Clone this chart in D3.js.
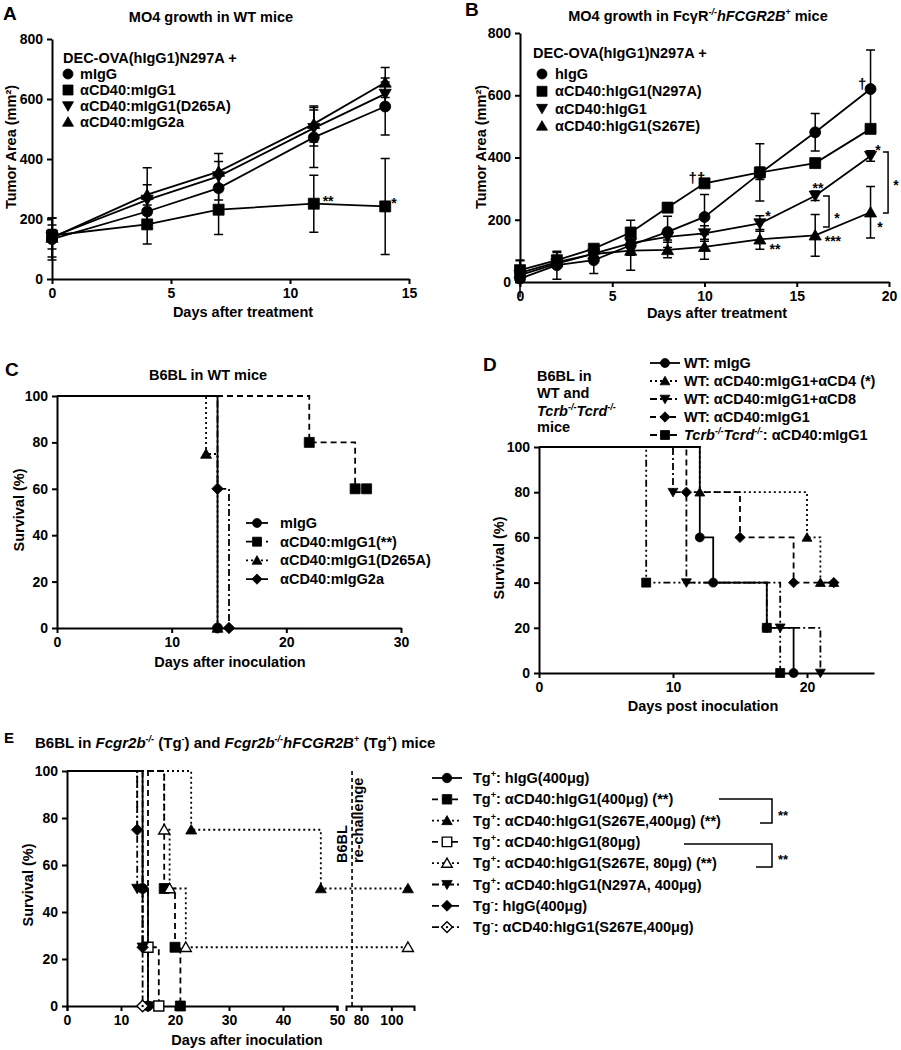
<!DOCTYPE html>
<html><head><meta charset="utf-8">
<script src="https://cdn.jsdelivr.net/npm/d3@7"></script>
<style>
body{margin:0;background:#fff}
svg text{font-family:"Liberation Sans",Arial,Helvetica,sans-serif;font-weight:bold;fill:#000}
</style></head><body>
<svg id="fig" width="901" height="1050"></svg>
<script>
// ---------------- DATA ----------------
// Panel A: MO4 growth in WT mice
const aDays = [0, 4, 7, 11, 14];
const aMIgG = [133, 225, 303, 472, 575];
const aMIgGErr = [70, 40, 40, 100, 95];
const aMIgG1 = [145, 182, 231, 251, 242];
const aMIgG1Err = [20, 65, 83, 95, 160];
const aD265A = [140, 264, 342, 503, 617];
const aD265AErr = [40, 50, 50, 60, 40];
const aMIgG2a = [138, 281, 358, 517, 655];
const aMIgG2aErr = [65, 90, 60, 60, 50];
const aYTicks = [0, 200, 400, 600, 800];
const aXTicks = [0, 5, 10, 15];

// Panel B: MO4 growth in FcgR-/- hFCGR2B+ mice
const bDays = [0, 2, 4, 6, 8, 10, 13, 16, 19];
const bHIgG = [11, 54, 70, 118, 161, 209, 349, 481, 620];
const bHIgGErr = [60, 45, 43, 80, 50, 72, 20, 60, 125];
const bN297A = [38, 70, 107, 159, 239, 317, 352, 382, 492];
const bN297AErr = [30, 25, 10, 10, 15, 10, 92, 10, 10];
const bHIgG1 = [22, 59, 91, 125, 145, 156, 188, 277, 405];
const bHIgG1Err = [10, 10, 10, 10, 10, 25, 25, 15, 17];
const bS267E = [29, 64, 90, 101, 103, 113, 137, 150, 224];
const bS267EErr = [10, 10, 10, 15, 25, 40, 32, 67, 83];
const bYTicks = [0, 200, 400, 600, 800];
const bXTicks = [0, 5, 10, 15, 20];

// Panel C: survival [day, survival%] steps
const cMIgG = [[14, 0]];
const cMIgG1 = [[22, 80], [26, 60], [27, 60]];
const cD265A = [[13, 75], [14, 0]];
const cMIgG2a = [[14, 60], [15, 0]];
const cXTicks = [0, 10, 20, 30];
const survTicks = [0, 20, 40, 60, 80, 100];

// Panel D
const dMIgG = [[12, 60], [13, 40], [17, 20], [19, 0]];
const dCD4 = [[12, 80], [20, 60], [21, 40], [22, 40]];
const dCD8 = [[10, 80], [11, 40], [18, 20], [21, 0]];
const dMIgG1 = [[11, 80], [15, 60], [19, 40], [22, 40]];
const dTcrb = [[8, 40], [17, 20], [18, 0]];
const dXTicks = [0, 10, 20];

// Panel E
const eHIgG = [[14, 50], [15, 0]];
const eCD40400 = [[18, 50], [20, 25], [21, 0]];
const eS267E400 = [[23, 75], [47, 50], [111, 50]];
const eCD4080 = [[15, 25], [17, 0]];
const eS267E80 = [[18, 75], [19, 50], [22, 25], [111, 25]];
const eN297A = [[13, 50], [14, 25], [15, 0]];
const eTgNegHIgG = [[13, 75], [14, 25], [15, 0]];
const eTgNegS267E = [[14, 0]];
const eXTicksA = [0, 10, 20, 30, 40, 50];
const eXTicksB = [80, 100];
const eRechallenge = 74;

// ---------------- HELPERS ----------------
const svg = d3.select("#fig");
const DASH = {solid: null, dashed: "6,4", dotted: "2,3", dashdot: "7,3,2,3", dashdotdot: "7,3,2,3,2,3"};

function rich(sel, parts, base) {
  let cur = 0;
  parts.forEach(p => {
    if (typeof p === "string") p = {t: p};
    const want = p.sup ? -Math.round(base * 0.38) : 0;
    const ts = sel.append("tspan").text(p.t);
    if (want - cur !== 0) ts.attr("dy", want - cur);
    cur = want;
    if (p.sup) ts.attr("font-size", Math.round(base * 0.62));
    if (p.it) ts.attr("font-style", "italic");
  });
  return sel;
}
function text(x, y, parts, size = 14.5, anchor = "start") {
  const t = svg.append("text").attr("x", x).attr("y", y).attr("font-size", size).attr("text-anchor", anchor);
  return rich(t, Array.isArray(parts) ? parts : [parts], size);
}
function vtext(cx, cy, parts, size = 14.5, anchor = "middle") {
  const t = svg.append("text").attr("transform", `translate(${cx},${cy}) rotate(-90)`)
    .attr("font-size", size).attr("text-anchor", anchor);
  return rich(t, Array.isArray(parts) ? parts : [parts], size);
}
function symPath(type, s) {
  const h = s / 2;
  switch (type) {
    case "circle": case "ocircle": return d3.symbol(d3.symbolCircle, Math.PI * h * h)();
    case "square": case "osquare": return `M${-h},${-h}H${h}V${h}H${-h}Z`;
    case "tri": case "otri": return `M0,${-h * 1.05}L${h * 1.1},${h * 0.85}L${-h * 1.1},${h * 0.85}Z`;
    case "tridown": return `M0,${h * 1.05}L${h * 1.1},${-h * 0.85}L${-h * 1.1},${-h * 0.85}Z`;
    case "diamond": case "odiamond": return `M0,${-h * 1.15}L${h * 1.15},0L0,${h * 1.15}L${-h * 1.15},0Z`;
  }
}
function marker(g, type, x, y, s) {
  const open = type[0] === "o";
  g.append("path").attr("d", symPath(type, s)).attr("transform", `translate(${x},${y})`)
    .attr("fill", open ? "#fff" : "#000").attr("stroke", "#000").attr("stroke-width", open ? 1.4 : 0.8);
  if (type === "odiamond") g.append("circle").attr("cx", x).attr("cy", y).attr("r", 1.2).attr("fill", "#000");
}
function styleAxis(g) {
  g.attr("font-size", 14).attr("font-family", null);
  g.selectAll("path,line").attr("stroke", "#000").attr("stroke-width", 2);
}
function axes(x, y, xTicks, yTicks) {
  const gx = svg.append("g").attr("transform", `translate(0,${y.range()[0]})`)
    .call(d3.axisBottom(x).tickValues(xTicks).tickSize(5).tickSizeOuter(0).tickPadding(4));
  styleAxis(gx);
  const gy = svg.append("g").attr("transform", `translate(${x.range()[0]},0)`)
    .call(d3.axisLeft(y).tickValues(yTicks).tickSize(5).tickSizeOuter(0).tickPadding(4));
  styleAxis(gy);
}
function growth(x, y, days, series, ms) {
  const g = svg.append("g");
  const line = d3.line().x((d, i) => x(days[i])).y(d => y(d));
  series.forEach(s => {
    s.vals.forEach((v, i) => {
      const e = s.errs[i], cx = x(days[i]);
      g.append("path").attr("d", `M${cx},${y(v - e)}V${y(v + e)}M${cx - 4.5},${y(v + e)}H${cx + 4.5}M${cx - 4.5},${y(Math.max(0, v - e))}H${cx + 4.5}`)
        .attr("stroke", "#000").attr("stroke-width", 1.5).attr("fill", "none");
    });
  });
  series.forEach(s => g.append("path").attr("d", line(s.vals)).attr("fill", "none").attr("stroke", "#000").attr("stroke-width", 1.8));
  series.forEach(s => s.vals.forEach((v, i) => marker(g, s.marker, x(days[i]), y(v), ms)));
}
function km(x, y, groups, ms) {
  const g = svg.append("g");
  groups.forEach(gr => {
    let d = `M${x(0)},${y(100)}`;
    gr.pts.forEach(([t, s]) => { d += `H${x(t)}V${y(s)}`; });
    g.append("path").attr("d", d).attr("fill", "none").attr("stroke", "#000").attr("stroke-width", 1.8)
      .attr("stroke-dasharray", DASH[gr.dash]);
  });
  groups.forEach(gr => gr.pts.forEach(([t, s]) => marker(g, gr.marker, x(t), y(s), ms)));
}
function legendKM(x1, x2, y, dash, type, ms) {
  svg.append("path").attr("d", `M${x1},${y}H${x2}`).attr("stroke", "#000").attr("stroke-width", 1.8)
    .attr("stroke-dasharray", DASH[dash]);
  marker(svg, type, (x1 + x2) / 2, y, ms);
}
function star(x, y, s, size = 14) { return text(x, y + 8, s, size, "middle"); }

// ---------------- PANEL A ----------------
const xA = d3.scaleLinear().domain([0, 15]).range([52, 409]);
const yA = d3.scaleLinear().domain([0, 800]).range([279, 39]);
text(3, 20, "A", 19);
text(211, 22, "MO4 growth in WT mice", 14.5, "middle");
axes(xA, yA, aXTicks, aYTicks);
growth(xA, yA, aDays, [
  {vals: aMIgG, errs: aMIgGErr, marker: "circle"},
  {vals: aMIgG1, errs: aMIgG1Err, marker: "square"},
  {vals: aD265A, errs: aD265AErr, marker: "tridown"},
  {vals: aMIgG2a, errs: aMIgG2aErr, marker: "tri"}
], 11);
star(xA(11.6), yA(270), "**");
star(xA(14.37), yA(263), "*");
text(243, 317, "Days after treatment", 14.5, "middle");
vtext(16, 147, "Tumor Area (mm²)");
text(63, 63, "DEC-OVA(hIgG1)N297A +");
[["circle", "mIgG"], ["square", "αCD40:mIgG1"], ["tridown", "αCD40:mIgG1(D265A)"], ["tri", "αCD40:mIgG2a"]]
  .forEach(([m, l], i) => { marker(svg, m, 68, 74 + i * 16, 10); text(80, 79 + i * 16, l); });

// ---------------- PANEL B ----------------
const xB = d3.scaleLinear().domain([0, 20]).range([520, 889]);
const yB = d3.scaleLinear().domain([0, 800]).range([282, 33]);
text(465, 16, "B", 19);
text(698, 21, ["MO4 growth in FcγR", {t: "-/-", sup: 1, it: 1}, {t: "hFCGR2B", it: 1}, {t: "+", sup: 1}, " mice"], 14.5, "middle");
axes(xB, yB, bXTicks, bYTicks);
growth(xB, yB, bDays, [
  {vals: bHIgG, errs: bHIgGErr, marker: "circle"},
  {vals: bN297A, errs: bN297AErr, marker: "square"},
  {vals: bHIgG1, errs: bHIgG1Err, marker: "tridown"},
  {vals: bS267E, errs: bS267EErr, marker: "tri"}
], 11);
text(717, 318, "Days after treatment", 14.5, "middle");
vtext(486, 147, "Tumor Area (mm²)");
text(533, 58, "DEC-OVA(hIgG1)N297A +");
[["circle", "hIgG"], ["square", "αCD40:hIgG1(N297A)"], ["tridown", "αCD40:hIgG1"], ["tri", "αCD40:hIgG1(S267E)"]]
  .forEach(([m, l], i) => { marker(svg, m, 542, 74 + i * 17.3, 10); text(555, 79 + i * 17.3, l); });
// annotations
text(xB(9.59), yB(338) + 6, "††", 15, "middle");
text(xB(18.54), yB(640) + 6, "†", 15, "middle");
[[19.4, 434, "*"], [16.15, 312, "**"], [13.44, 222, "*"], [13.82, 116, "**"], [16.96, 141, "***"],
 [17.18, 215, "*"], [19.51, 186, "*"], [20.38, 322, "*"]].forEach(([d, v, s]) => star(xB(d), yB(v), s));
[[16.42, 16.75, 276, 177], [19.67, 19.95, 418, 222]].forEach(([x0, x1, v0, v1]) =>
  svg.append("path").attr("d", `M${xB(x0)},${yB(v0)}H${xB(x1)}V${yB(v1)}H${xB(x0)}`)
    .attr("fill", "none").attr("stroke", "#000").attr("stroke-width", 1.5));

// ---------------- PANEL C ----------------
const xC = d3.scaleLinear().domain([0, 30]).range([57, 401]);
const yC = d3.scaleLinear().domain([0, 100]).range([628, 396]);
text(5, 376, "C", 19);
text(208, 380, "B6BL in WT mice", 14.5, "middle");
axes(xC, yC, cXTicks, survTicks);
km(xC, yC, [
  {pts: cMIgG1, dash: "dashed", marker: "square"},
  {pts: cD265A, dash: "dotted", marker: "tri"},
  {pts: cMIgG2a, dash: "dashdot", marker: "diamond"},
  {pts: cMIgG, dash: "solid", marker: "circle"}
], 10);
text(230, 667, "Days after inoculation", 14.5, "middle");
vtext(24, 510, "Survival (%)");
[["solid", "circle", "mIgG"], ["dashed", "square", "αCD40:mIgG1(**)"], ["dotted", "tri", "αCD40:mIgG1(D265A)"], ["dashdot", "diamond", "αCD40:mIgG2a"]]
  .forEach(([ds, m, l], i) => { const y = 523 + i * 18.7; legendKM(246, 268, y, ds, m, 9); text(280, y + 5, l); });

// ---------------- PANEL D ----------------
const xD = d3.scaleLinear().domain([0, 25]).range([539, 874]);
const yD = d3.scaleLinear().domain([0, 100]).range([673, 447]);
text(483, 371, "D", 19);
text(537, 381, "B6BL in");
text(537, 398, "WT and");
text(537, 416, [{t: "Tcrb", it: 1}, {t: "-/-", sup: 1, it: 1}, {t: "Tcrd", it: 1}, {t: "-/-", sup: 1, it: 1}]);
text(537, 432, "mice");
axes(xD, yD, dXTicks, survTicks);
km(xD, yD, [
  {pts: dMIgG, dash: "solid", marker: "circle"},
  {pts: dCD4, dash: "dotted", marker: "tri"},
  {pts: dCD8, dash: "dashdot", marker: "tridown"},
  {pts: dMIgG1, dash: "dashed", marker: "diamond"},
  {pts: dTcrb, dash: "dashdotdot", marker: "square"}
], 9);
text(703, 711, "Days post inoculation", 14.5, "middle");
vtext(504, 558, "Survival (%)");
[["solid", "circle", ["WT: mIgG"]],
 ["dotted", "tri", ["WT: αCD40:mIgG1+αCD4 (*)"]],
 ["dashdot", "tridown", ["WT: αCD40:mIgG1+αCD8"]],
 ["dashed", "diamond", ["WT: αCD40:mIgG1"]],
 ["dashdotdot", "square", [{t: "Tcrb", it: 1}, {t: "-/-", sup: 1, it: 1}, {t: "Tcrd", it: 1}, {t: "-/-", sup: 1, it: 1}, ": αCD40:mIgG1"]]]
  .forEach(([ds, m, l], i) => { const y = 363 + i * 18; legendKM(650, 680, y, ds, m, 9); text(684, y + 5, l); });

// ---------------- PANEL E ----------------
const xE = d3.scaleLinear().domain([0, 50, 70, 115]).range([67, 337, 346, 414]);
const xEa = d3.scaleLinear().domain([0, 50]).range([67, 337]);
const xEb = d3.scaleLinear().domain([70, 115]).range([346, 414]);
const yE = d3.scaleLinear().domain([0, 100]).range([1006, 771]);
text(4, 743, "E", 15);
text(35, 748, ["B6BL in ", {t: "Fcgr2b", it: 1}, {t: "-/-", sup: 1, it: 1}, " (Tg", {t: "-", sup: 1}, ") and ",
  {t: "Fcgr2b", it: 1}, {t: "-/-", sup: 1, it: 1}, {t: "hFCGR2B", it: 1}, {t: "+", sup: 1}, " (Tg", {t: "+", sup: 1}, ") mice"], 15);
[[xEa, eXTicksA], [xEb, eXTicksB]].forEach(([sc, tv]) => {
  const g = svg.append("g").attr("transform", `translate(0,${yE.range()[0]})`)
    .call(d3.axisBottom(sc).tickValues(tv).tickSize(5).tickSizeOuter(5).tickPadding(4));
  styleAxis(g);
});
{
  const g = svg.append("g").attr("transform", `translate(${xEa.range()[0]},0)`)
    .call(d3.axisLeft(yE).tickValues(survTicks).tickSize(5).tickSizeOuter(0).tickPadding(4));
  styleAxis(g);
}
svg.append("path").attr("d", `M${xE(eRechallenge)},${yE(100)}V${yE(0)}`).attr("stroke", "#000")
  .attr("stroke-width", 1.6).attr("stroke-dasharray", "4,3");
vtext(347, 863, "B6BL", 14.5, "start");
vtext(363, 863, "re-challenge", 14.5, "start");
km(xE, yE, [
  {pts: eHIgG, dash: "solid", marker: "circle"},
  {pts: eCD40400, dash: "dashed", marker: "square"},
  {pts: eS267E400, dash: "dotted", marker: "tri"},
  {pts: eCD4080, dash: "dashed", marker: "osquare"},
  {pts: eS267E80, dash: "dotted", marker: "otri"},
  {pts: eN297A, dash: "dashdot", marker: "tridown"},
  {pts: eTgNegHIgG, dash: "dashdotdot", marker: "diamond"},
  {pts: eTgNegS267E, dash: "dashdot", marker: "odiamond"}
], 10);
text(247, 1045, "Days after inoculation", 14.5, "middle");
vtext(33, 885, "Survival (%)");
const tgP = [{t: "Tg"}, {t: "+", sup: 1}], tgN = [{t: "Tg"}, {t: "-", sup: 1}];
[["solid", "circle", [...tgP, ": hIgG(400μg)"]],
 ["dashed", "square", [...tgP, ": αCD40:hIgG1(400μg) (**)"]],
 ["dotted", "tri", [...tgP, ": αCD40:hIgG1(S267E,400μg) (**)"]],
 ["dashed", "osquare", [...tgP, ": αCD40:hIgG1(80μg)"]],
 ["dotted", "otri", [...tgP, ": αCD40:hIgG1(S267E, 80μg) (**)"]],
 ["dashdot", "tridown", [...tgP, ": αCD40:hIgG1(N297A, 400μg)"]],
 ["dashdotdot", "diamond", [...tgN, ": hIgG(400μg)"]],
 ["dashdot", "odiamond", [...tgN, ": αCD40:hIgG1(S267E,400μg)"]]]
  .forEach(([ds, m, l], i) => { const y = 778 + i * 21.3; legendKM(432, 462, y, ds, m, 9.5); text(473, y + 5, l, 14.5); });
[[719, 760, 799, 823, 812], [684, 756, 844, 867, 856]].forEach(([xa, xb, ya, yb, ys]) => {
  svg.append("path").attr("d", `M${xa},${ya}H772V${yb}H${xb}`).attr("fill", "none").attr("stroke", "#000").attr("stroke-width", 1.5);
  text(783, ys + 8, "**", 13, "middle");
});
</script></body></html>
